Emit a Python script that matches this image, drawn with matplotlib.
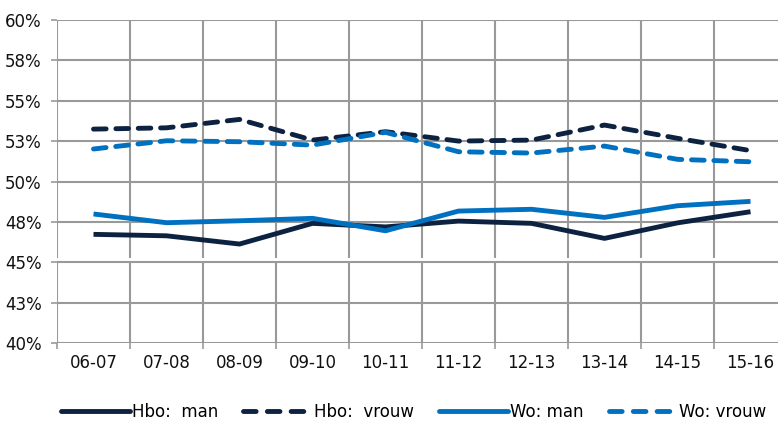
import matplotlib
matplotlib.use("Agg")
import matplotlib.pyplot as plt
from matplotlib.lines import Line2D

categories = ["06-07", "07-08", "08-09", "09-10", "10-11", "11-12", "12-13", "13-14", "14-15", "15-16"]
hbo_man = [46.74, 46.65, 46.14, 47.42, 47.2, 47.56, 47.42, 46.49, 47.45, 48.14]
hbo_vrouw = [53.25, 53.33, 53.85, 52.57, 53.09, 52.51, 52.57, 53.5, 52.68, 51.92]
wo_man = [48.0, 47.46, 47.58, 47.73, 46.96, 48.18, 48.29, 47.79, 48.51, 48.78]
wo_vrouw = [52.02, 52.53, 52.47, 52.26, 53.05, 51.85, 51.77, 52.2, 51.38, 51.23]
ytick_vals = [40, 42.5, 45, 47.5, 50, 52.5, 55, 57.5, 60]
ytick_labels = ["40%", "43%", "45%", "48%", "50%", "53%", "55%", "58%", "60%"]

navy = "#0d2240"
blue = "#0070c0"
grid = "#999999"

plt.rcParams['font.family'] = ['DejaVu Sans Condensed', 'DejaVu Sans']
fig = plt.figure(figsize=(7.78, 4.25), dpi=100)
ax = fig.add_axes([57/778, (425-343.3)/425, 730/778, 323.3/425])

n = len(categories)
x = list(range(n))
ax.set_xlim(-0.5, n - 0.5)
ax.set_ylim(40, 60)

# grid
for v in ytick_vals:
    ax.axhline(v, color=grid, lw=1.5, zorder=1)
for b in [i - 0.5 for i in range(n + 1)]:
    ax.vlines(b, 40, 45, color=grid, lw=1.5, zorder=1)
    ax.vlines(b, 45.3, 60, color=grid, lw=1.5, zorder=1)
for s in ax.spines.values():
    s.set_visible(False)

lw = 3.5
dash = (2.6, 2.0)
ax.plot(x, hbo_man, color=navy, lw=lw, solid_capstyle='butt', solid_joinstyle='round', zorder=3)
ax.plot(x, hbo_vrouw, color=navy, lw=lw, dashes=dash, dash_capstyle='round', dash_joinstyle='round', zorder=3)
ax.plot(x, wo_man, color=blue, lw=lw, solid_capstyle='butt', solid_joinstyle='round', zorder=3)
ax.plot(x, wo_vrouw, color=blue, lw=lw, dashes=dash, dash_capstyle='round', dash_joinstyle='round', zorder=3)

ax.set_yticks(ytick_vals)
ax.set_yticklabels(ytick_labels)
ax.set_xticks(x)
ax.set_xticklabels(categories)
ax.set_xticks([i - 0.5 for i in range(n + 1)], minor=True)
ax.tick_params(axis='y', length=4, width=1.2, color=grid, pad=7, labelsize=12, labelcolor='#111111')
ax.tick_params(axis='x', which='major', length=0, pad=8, labelsize=12, labelcolor='#111111')
ax.tick_params(axis='x', which='minor', length=4, width=1.2, color=grid)

ldash = (2.6, 2.3)
handles = [
    Line2D([], [], color=navy, lw=lw, solid_capstyle='round'),
    Line2D([], [], color=navy, lw=lw, dashes=ldash, dash_capstyle='round'),
    Line2D([], [], color=blue, lw=lw, solid_capstyle='round'),
    Line2D([], [], color=blue, lw=lw, dashes=ldash, dash_capstyle='round'),
]
labels = ["Hbo:  man", "Hbo:  vrouw", "Wo: man", "Wo: vrouw"]
fig.legend(handles, labels, loc='center', bbox_to_anchor=(414/778, 1 - 412/425), ncol=4,
           frameon=False, fontsize=12, handlelength=4.1, handletextpad=0.15, columnspacing=1.5)

fig.savefig("out.png", dpi=100)
